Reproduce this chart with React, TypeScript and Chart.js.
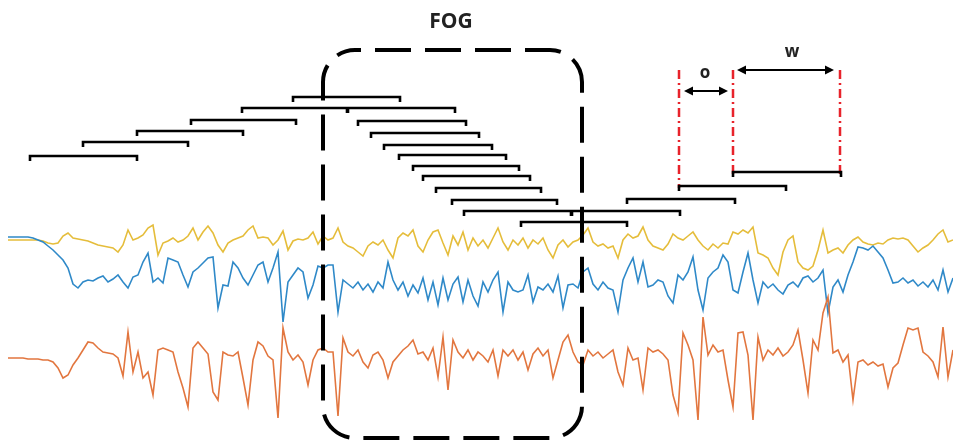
import React, { useEffect, useRef } from "react";
import { Chart, registerables } from "chart.js";

Chart.register(...registerables);

// sample positions (horizontal units of the diagram)
const X_START = 8;
const X_STEP = 5;

const yellowSignal = [
  240, 240, 240, 240, 240, 240, 240, 241, 243, 244,
  243, 236, 233, 238, 239, 240, 241, 243, 245, 246,
  247, 248, 252, 245, 230, 240, 238, 235, 228, 225,
  255, 243, 241, 238, 242, 240, 236, 228, 240, 232,
  226, 233, 245, 252, 243, 240, 238, 236, 230, 226,
  238, 237, 238, 245, 240, 231, 250, 241, 239, 240,
  238, 232, 244, 236, 240, 238, 228, 242, 246, 248,
  252, 256, 246, 242, 245, 240, 250, 258, 238, 233,
  236, 230, 246, 252, 240, 232, 230, 243, 255, 236,
  245, 232, 250, 238, 246, 240, 248, 238, 228, 242,
  250, 240, 245, 238, 248, 240, 244, 238, 250, 258,
  245, 240, 247, 242, 240, 235, 228, 242, 246, 244,
  248, 246, 258, 240, 234, 238, 236, 227, 240, 246,
  248, 250, 244, 234, 238, 240, 236, 232, 240, 246,
  250, 244, 248, 243, 244, 232, 234, 230, 233, 227,
  253, 255, 258, 268, 275, 252, 240, 236, 262, 268,
  270, 266, 250, 230, 253, 250, 248, 253, 245, 240,
  237, 242, 244, 245, 243, 244, 240, 238, 239, 238,
  240, 246, 252, 248, 245, 240, 234, 230, 242, 240,
];

const blueSignal = [
  237, 237, 237, 237, 237, 238, 240, 242, 246, 250,
  255, 260, 268, 284, 288, 282, 280, 281, 278, 276,
  282, 279, 275, 282, 288, 277, 275, 262, 253, 282,
  278, 283, 258, 260, 262, 275, 287, 272, 268, 263,
  258, 257, 308, 285, 286, 262, 268, 278, 285, 275,
  265, 262, 282, 268, 252, 322, 282, 275, 268, 272,
  298, 285, 266, 268, 265, 265, 312, 280, 284, 288,
  282, 290, 284, 292, 282, 288, 262, 280, 290, 282,
  296, 285, 293, 278, 300, 282, 305, 278, 300, 284,
  277, 302, 280, 296, 306, 282, 292, 280, 272, 312,
  282, 290, 292, 290, 275, 302, 287, 290, 284, 292,
  276, 308, 285, 284, 288, 272, 268, 284, 290, 282,
  288, 290, 312, 280, 268, 258, 282, 262, 287, 285,
  280, 282, 296, 303, 275, 280, 272, 257, 290, 310,
  278, 272, 268, 255, 262, 290, 293, 272, 253, 280,
  303, 282, 288, 284, 290, 294, 285, 282, 287, 278,
  276, 282, 278, 270, 313, 287, 280, 292, 275, 262,
  247, 248, 250, 246, 252, 258, 270, 283, 282, 278,
  283, 280, 286, 282, 287, 280, 290, 270, 292, 278,
];

const orangeSignal = [
  358, 358, 358, 358, 359, 359, 359, 360, 360, 362,
  368, 378, 375, 365, 358, 350, 342, 343, 348, 352,
  353, 354, 358, 376, 332, 372, 352, 378, 372, 395,
  350, 348, 350, 352, 372, 388, 407, 348, 342, 348,
  354, 392, 400, 352, 355, 356, 352, 378, 405, 360,
  342, 346, 356, 360, 418, 328, 352, 360, 355, 362,
  385, 360, 350, 348, 352, 352, 416, 338, 352, 356,
  350, 362, 368, 355, 352, 360, 378, 362, 356, 350,
  346, 340, 354, 352, 360, 348, 377, 337, 390, 340,
  352, 358, 350, 360, 352, 356, 362, 350, 376, 350,
  356, 350, 360, 352, 370, 354, 348, 356, 350, 378,
  360, 342, 335, 352, 362, 365, 350, 356, 352, 358,
  354, 350, 372, 385, 348, 360, 358, 390, 348, 352,
  350, 354, 360, 395, 413, 333, 345, 360, 420, 317,
  355, 345, 352, 350, 380, 407, 333, 332, 355, 420,
  337, 360, 350, 355, 348, 356, 352, 345, 330, 360,
  393, 340, 350, 313, 297, 353, 350, 362, 355, 400,
  362, 360, 365, 362, 366, 364, 387, 368, 363, 345,
  328, 330, 328, 352, 356, 362, 377, 327, 377, 350,
];

// sliding windows: start, end, vertical level
const windowStart = [30, 83, 137, 191, 242, 293, 347, 358, 371, 384, 399, 413, 423, 436, 452, 464, 521, 571, 627, 679, 733];
const windowEnd = [137, 188, 243, 296, 348, 400, 455, 466, 479, 492, 506, 519, 530, 541, 557, 572, 627, 680, 735, 786, 841];
const windowLevel = [156, 142, 131, 120, 108, 97, 108, 121, 133, 145, 155, 166, 176, 188, 200, 211, 222, 211, 199, 186, 172];
const TICK = 5;

// red dash-dot guides (x, top, bottom)
const guideX = [679, 733, 840];
const guideTop = [70, 70, 70];
const guideBottom = [188, 174, 174];

// arrows: from, to, level, label, label position
const arrowFrom = [684, 737];
const arrowTo = [728, 834];
const arrowLevel = [91, 70];
const arrowLabel = ["o", "w"];
const labelX = [705, 792];
const labelY = [73, 52];

// FOG region
const fogLeft = 323;
const fogRight = 582;
const fogTop = 50;
const fogBottom = 438;
const fogTitle = "FOG";
const fogTitleX = 451;
const fogTitleY = 22;

const overlay = {
  id: "overlay",
  afterDatasetsDraw(chart: any) {
    const ctx = chart.ctx;
    const sx = chart.scales.x;
    const sy = chart.scales.y;
    const px = (v: number) => sx.getPixelForValue(v);
    const py = (v: number) => sy.getPixelForValue(v);
    ctx.save();
    // FOG rounded dashed box
    ctx.strokeStyle = "#000";
    ctx.lineWidth = 4;
    ctx.setLineDash([36, 14]);
    ctx.lineDashOffset = -20;
    ctx.beginPath();
    const l = px(fogLeft), r = px(fogRight), t = py(fogTop), b = py(fogBottom);
    (ctx as any).roundRect(l, t, r - l, b - t, 32);
    ctx.stroke();
    ctx.setLineDash([]);
    // arrows
    ctx.lineWidth = 2;
    ctx.fillStyle = "#000";
    for (let i = 0; i < arrowFrom.length; i++) {
      const a = px(arrowFrom[i]), c = px(arrowTo[i]), y = py(arrowLevel[i]);
      ctx.beginPath();
      ctx.moveTo(a + 6, y);
      ctx.lineTo(c - 6, y);
      ctx.stroke();
      ctx.beginPath();
      ctx.moveTo(a, y);
      ctx.lineTo(a + 9, y - 4.5);
      ctx.lineTo(a + 9, y + 4.5);
      ctx.closePath();
      ctx.fill();
      ctx.beginPath();
      ctx.moveTo(c, y);
      ctx.lineTo(c - 9, y - 4.5);
      ctx.lineTo(c - 9, y + 4.5);
      ctx.closePath();
      ctx.fill();
    }
    // labels
    ctx.textAlign = "center";
    ctx.textBaseline = "middle";
    ctx.fillStyle = "#222";
    ctx.font = "bold 17px 'Open Sans', sans-serif";
    for (let i = 0; i < arrowLabel.length; i++) {
      ctx.fillText(arrowLabel[i], px(labelX[i]), py(labelY[i]));
    }
    ctx.font = "bold 21px 'Open Sans', sans-serif";
    ctx.fillText(fogTitle, px(fogTitleX), py(fogTitleY));
    ctx.restore();
  },
};

export default function App() {
  const ref = useRef<HTMLCanvasElement | null>(null);
  useEffect(() => {
    document.body.style.margin = "0";
    const xs = yellowSignal.map((_, i) => X_START + i * X_STEP);
    const toPts = (arr: number[]) => arr.map((v, i) => ({ x: xs[i], y: v }));

    const bracketPts: any[] = [];
    for (let i = 0; i < windowStart.length; i++) {
      const s = windowStart[i], e = windowEnd[i], lv = windowLevel[i];
      bracketPts.push({ x: s, y: lv + TICK }, { x: s, y: lv }, { x: e, y: lv }, { x: e, y: lv + TICK }, { x: e, y: null });
    }
    const guideSets = guideX.map((gx, i) => ({
      type: "line" as const,
      data: [{ x: gx, y: guideTop[i] }, { x: gx, y: guideBottom[i] }],
      borderColor: "#e8232b",
      borderWidth: 2.5,
      borderDash: [9, 4, 2, 4],
      pointRadius: 0,
    }));

    const chart = new Chart(ref.current as HTMLCanvasElement, {
      type: "line",
      data: {
        datasets: [
          { data: toPts(orangeSignal), borderColor: "#e2763f", borderWidth: 1.6, pointRadius: 0, tension: 0 },
          { data: toPts(blueSignal), borderColor: "#2f89c8", borderWidth: 1.6, pointRadius: 0, tension: 0 },
          { data: toPts(yellowSignal), borderColor: "#e5bd3b", borderWidth: 1.6, pointRadius: 0, tension: 0 },
          { data: bracketPts, borderColor: "#000", borderWidth: 2.6, pointRadius: 0, spanGaps: false, borderJoinStyle: "miter" },
          ...guideSets,
        ] as any,
      },
      options: {
        animation: false,
        responsive: false,
        maintainAspectRatio: false,
        layout: { padding: 0 },
        plugins: { legend: { display: false }, tooltip: { enabled: false } },
        scales: {
          x: { type: "linear", min: 0, max: 953, display: false },
          y: { type: "linear", min: 0, max: 441, reverse: true, display: false },
        },
      },
      plugins: [overlay],
    });
    return () => chart.destroy();
  }, []);
  return (
    <div style={{ width: 953, height: 441, background: "#fff" }}>
      <canvas ref={ref} width={953} height={441} />
    </div>
  );
}
